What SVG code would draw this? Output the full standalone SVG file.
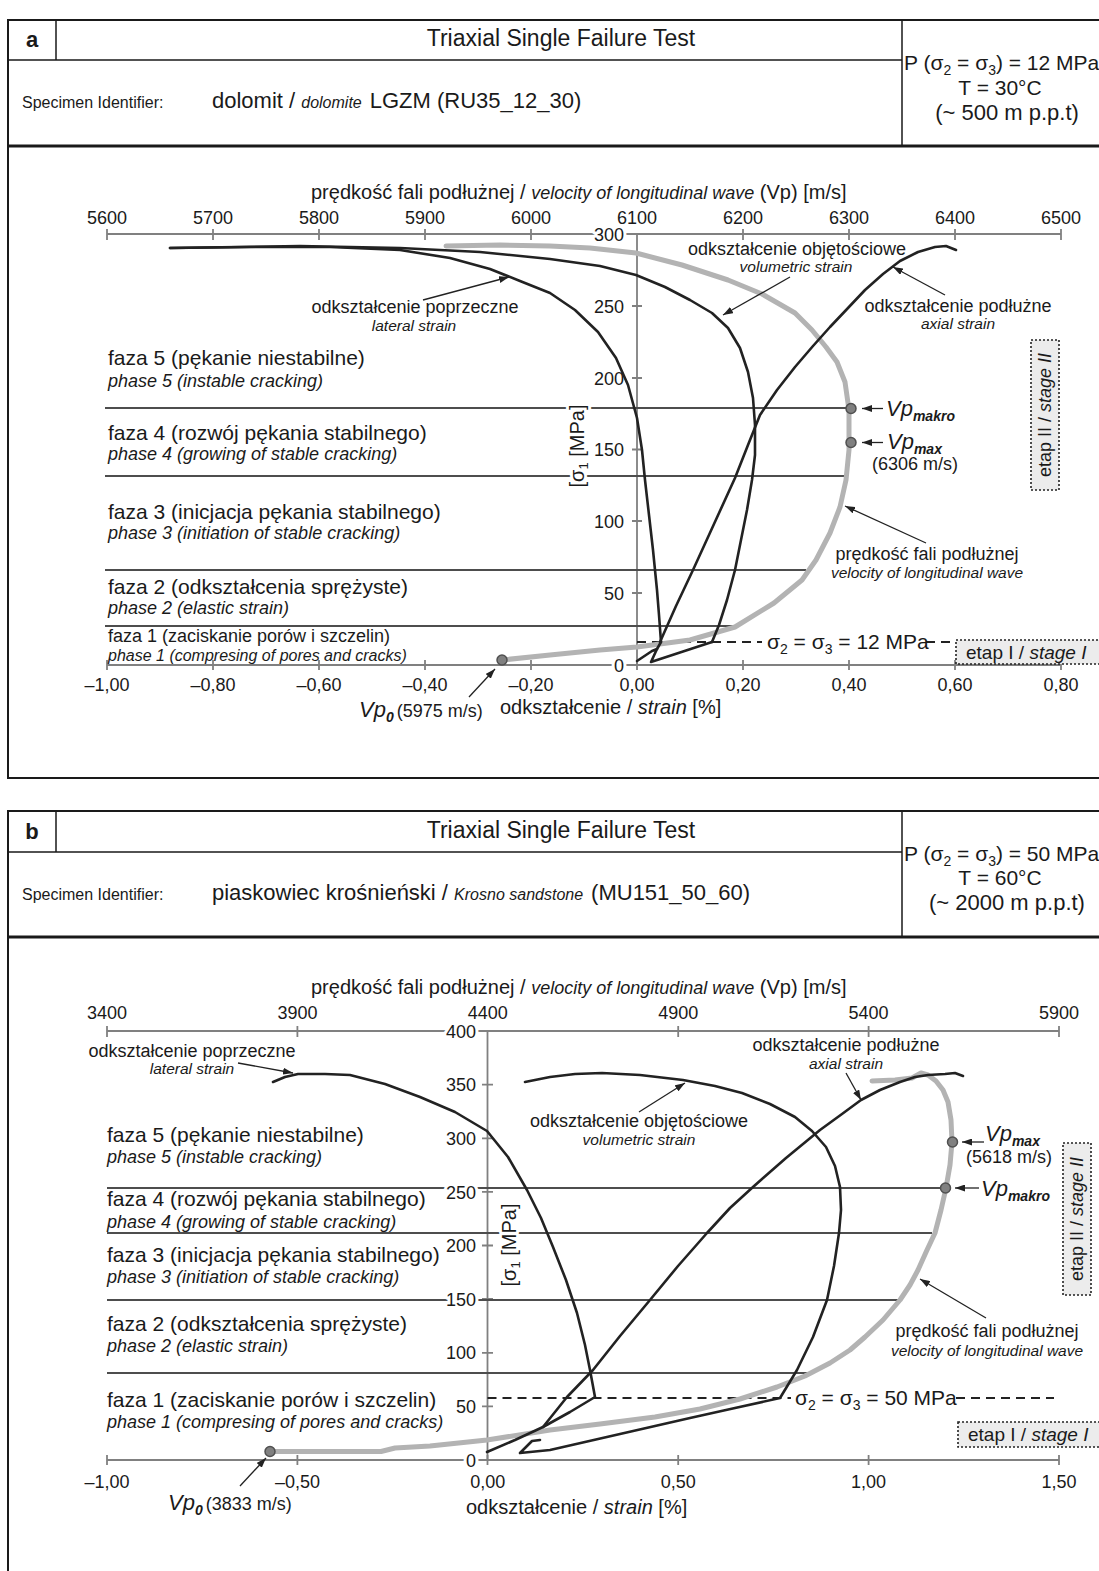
<svg xmlns="http://www.w3.org/2000/svg" width="1099" height="1571" viewBox="0 0 1099 1571">
<defs>
<style>
text{font-family:"Liberation Sans",Arial,sans-serif;fill:#1a1a1a}
.frame{fill:none;stroke:#1a1a1a;stroke-width:2}
.hdr{stroke:#1a1a1a;stroke-width:1.5;fill:none}
.thick{stroke:#1a1a1a;stroke-width:3}
.axis{stroke:#808080;stroke-width:1.8;fill:none}
.phase{stroke:#4d4d4d;stroke-width:1.8}
.curve{fill:none;stroke:#222;stroke-width:2.6;stroke-linejoin:round;stroke-linecap:round}
.vp{fill:none;stroke:#b3b3b3;stroke-width:5;stroke-linejoin:round;stroke-linecap:round}
.dash{stroke:#222;stroke-width:2;stroke-dasharray:9 6}
.ptr{stroke:#222;stroke-width:1.3;fill:none;marker-end:url(#arr)}
.dot{fill:#808080;stroke:#505050;stroke-width:1.5}
.stage{fill:#ececec;stroke:#222;stroke-width:1.6;stroke-dasharray:2 2}
.halo{paint-order:stroke;stroke:#fff;stroke-width:6;stroke-linejoin:round}
.tk{font-size:18px}
.it{font-style:italic}
.ph{font-size:21px}
.phi{font-size:18px;font-style:italic}
.lb{font-size:18px}
.lbi{font-size:15.5px;font-style:italic}
.vpl{font-size:22px;font-style:italic}
.vps{font-size:14px;font-style:italic;font-weight:bold}
</style>
<marker id="arr" viewBox="0 0 10 7" refX="10" refY="3.5" markerWidth="10" markerHeight="7" markerUnits="userSpaceOnUse" orient="auto">
<path d="M0,0 L10,3.5 L0,7 z" fill="#222"/>
</marker>
</defs>
<rect width="1099" height="1571" fill="#fff"/>

<!-- ================= PANEL A ================= -->
<g id="panel-a-header">
<rect class="frame" x="8" y="20" width="1100" height="758"/>
<path class="hdr" d="M56 20 V60 M8 60 H902 M902 20 V146"/>
<path class="thick" d="M8 146 H1108"/>
<text x="32" y="47" font-size="22" font-weight="bold" text-anchor="middle">a</text>
<text x="561" y="46" font-size="23" text-anchor="middle">Triaxial Single Failure Test</text>
<text x="22" y="108" font-size="16">Specimen Identifier:</text>
<text x="212" y="108" font-size="22">dolomit / <tspan class="it" font-size="16">dolomite</tspan><tspan dx="8">LGZM (RU35_12_30)</tspan></text>
<text x="904" y="70" font-size="21">P (σ<tspan font-size="14" dy="5">2</tspan><tspan dy="-5"> = σ</tspan><tspan font-size="14" dy="5">3</tspan><tspan dy="-5">) = 12 MPa</tspan></text>
<text x="1000" y="95" font-size="21" text-anchor="middle">T = 30°C</text>
<text x="1007" y="120" font-size="22" text-anchor="middle">(~ 500 m p.p.t)</text>
</g>

<g id="panel-a-axes">
<path class="axis" d="M107 234 H1061 M637 234 V665 M107 665 H1061"/>
<path class="axis" d="M107 229 V240 M213 229 V240 M319 229 V240 M425 229 V240 M531 229 V240 M743 229 V240 M849 229 V240 M955 229 V240 M1061 229 V240 M107 660 V670 M213 660 V670 M319 660 V670 M425 660 V670 M531 660 V670 M637 660 V670 M743 660 V670 M849 660 V670 M955 660 V670 M1061 660 V670 M632 234 H642 M632 306 H642 M632 378 H642 M632 449.5 H642 M632 521 H642 M632 593 H642"/>
<g class="tk" text-anchor="middle">
<text x="107" y="224">5600</text><text x="213" y="224">5700</text><text x="319" y="224">5800</text><text x="425" y="224">5900</text><text x="531" y="224">6000</text><text x="637" y="224">6100</text><text x="743" y="224">6200</text><text x="849" y="224">6300</text><text x="955" y="224">6400</text><text x="1061" y="224">6500</text>
<text x="107" y="691">–1,00</text><text x="213" y="691">–0,80</text><text x="319" y="691">–0,60</text><text x="425" y="691">–0,40</text><text x="531" y="691">–0,20</text><text x="637" y="691">0,00</text><text x="743" y="691">0,20</text><text x="849" y="691">0,40</text><text x="955" y="691">0,60</text><text x="1061" y="691">0,80</text>
</g>
<text x="311" y="199" font-size="20">prędkość fali podłużnej / <tspan class="it" font-size="18">velocity of longitudinal wave</tspan> (Vp) [m/s]</text>
<text x="500" y="714" font-size="20">odkształcenie / <tspan class="it">strain</tspan> [%]</text>
</g>

<g id="panel-a-phases">
<path class="phase" d="M105 408 H851 M105 476 H846 M105 570 H806 M105 626 H735"/>
<path class="dash" d="M637 642 H762 M926 642 H952"/>
<text x="767" y="649" font-size="21">σ<tspan font-size="14" dy="5">2</tspan><tspan dy="-5"> = σ</tspan><tspan font-size="14" dy="5">3</tspan><tspan dy="-5"> = 12 MPa</tspan></text>
<text class="ph" x="108" y="365">faza 5 (pękanie niestabilne)</text>
<text class="phi" x="108" y="387">phase 5 (instable cracking)</text>
<text class="ph" x="108" y="440">faza 4 (rozwój pękania stabilnego)</text>
<text class="phi" x="108" y="460">phase 4 (growing of stable cracking)</text>
<text class="ph" x="108" y="519">faza 3 (inicjacja pękania stabilnego)</text>
<text class="phi" x="108" y="539">phase 3 (initiation of stable cracking)</text>
<text class="ph" x="108" y="594">faza 2 (odkształcenia sprężyste)</text>
<text class="phi" x="108" y="614">phase 2 (elastic strain)</text>
<text x="108" y="642" font-size="18">faza 1 (zaciskanie porów i szczelin)</text>
<text x="108" y="661" font-size="16" font-style="italic">phase 1 (compresing of pores and cracks)</text>
</g>

<g id="panel-a-ylabels" class="tk halo" text-anchor="end">
<text x="624" y="240.5">300</text><text x="624" y="312.5">250</text><text x="624" y="384.5">200</text><text x="624" y="456">150</text><text x="624" y="527.5">100</text><text x="624" y="599.5">50</text><text x="624" y="671.5">0</text>
</g>
<text class="halo" transform="translate(584 446) rotate(-90)" font-size="20" text-anchor="middle">[σ<tspan font-size="13" dy="4">1</tspan><tspan dy="-4"> [MPa]</tspan></text>

<g id="panel-a-curves">
<polyline class="vp" points="502,660 550,655 600,650 637,647 690,640 735,627 774,603 802,580 816,560 830,533 840,507 846,480 849,450 849,410 845,382 837,362 826,347 812,330 795,313 762,294 728,280 682,265 636,253 590,248 550,246 500,245 446,246"/>
<polyline class="curve" points="170,248 250,247 330,247 400,250 450,258 490,269 520,281 550,293 575,310 598,332 616,358 628,385 637,418 642,450 645,480 649,515 653,550 657,590 659,615 661,642"/>
<polyline class="curve" points="170,248 300,246 400,248 480,252 550,259 600,266 636,275 665,287 690,300 712,313 728,328 740,348 748,372 753,398 755,425 755,455 752,480 747,510 741,540 735,570 727,600 719,625 712,642"/>
<polyline class="curve" points="660,642 676,606 693,570 714,524 735,478 748,445 760,415 777,390 795,367 813,346 830,327 848,308 865,290 883,274 900,261 918,252 935,247 946,246 956,250"/>
<polyline class="curve" points="637,661 652,651 657,649 651,662 712,642"/>
<polyline class="curve" points="657,649 661,642"/>
<circle class="dot" cx="502" cy="660" r="5"/>
<circle class="dot" cx="851" cy="408.5" r="5"/>
<circle class="dot" cx="851" cy="442.5" r="5"/>
</g>

<g id="panel-a-labels">
<text class="lb" x="415" y="313" text-anchor="middle">odkształcenie poprzeczne</text>
<text class="lbi" x="414" y="331" text-anchor="middle">lateral strain</text>
<path class="ptr" d="M423 300 L509 277"/>
<text class="lb" x="797" y="255" text-anchor="middle">odkształcenie objętościowe</text>
<text class="lbi" x="796" y="272" text-anchor="middle">volumetric strain</text>
<path class="ptr" d="M790 277 L723 315"/>
<text class="lb" x="958" y="312" text-anchor="middle">odkształcenie podłużne</text>
<text class="lbi" x="958" y="329" text-anchor="middle">axial strain</text>
<path class="ptr" d="M945 295 L893 267"/>
<path class="ptr" d="M883 408.5 L862 408.5"/>
<text class="vpl" x="886" y="416">Vp<tspan class="vps" dy="5">makro</tspan></text>
<path class="ptr" d="M883 442.5 L862 442.5"/>
<text class="vpl" x="887" y="449">Vp<tspan class="vps" dy="5">max</tspan></text>
<text class="lb" x="872" y="470">(6306 m/s)</text>
<text class="lb" x="927" y="560" text-anchor="middle">prędkość fali podłużnej</text>
<text class="lbi" x="927" y="578" text-anchor="middle" font-size="16">velocity of longitudinal wave</text>
<path class="ptr" d="M926 543 L845 506"/>
<path class="ptr" d="M469 697 L495 669"/>
<text class="vpl" x="359" y="717">Vp<tspan class="vps" dy="5">0</tspan><tspan font-size="18" font-style="normal" font-weight="normal" dy="-5" dx="3">(5975 m/s)</tspan></text>
</g>

<g id="panel-a-stages">
<rect class="stage" x="1031" y="340" width="28" height="150"/>
<text transform="translate(1051 415) rotate(-90)" font-size="18" text-anchor="middle">etap II / <tspan class="it">stage II</tspan></text>
<rect class="stage" x="956" y="640" width="150" height="24"/>
<text x="966" y="659" font-size="19">etap I / <tspan class="it">stage I</tspan></text>
</g>

<!-- ================= PANEL B ================= -->
<g id="panel-b-header">
<rect class="frame" x="8" y="811" width="1100" height="800"/>
<path class="hdr" d="M56 811 V852 M8 852 H902 M902 811 V937"/>
<path class="thick" d="M8 937 H1108"/>
<text x="32" y="839" font-size="22" font-weight="bold" text-anchor="middle">b</text>
<text x="561" y="838" font-size="23" text-anchor="middle">Triaxial Single Failure Test</text>
<text x="22" y="900" font-size="16">Specimen Identifier:</text>
<text x="212" y="900" font-size="22">piaskowiec krośnieński / <tspan class="it" font-size="16">Krosno sandstone</tspan><tspan dx="8">(MU151_50_60)</tspan></text>
<text x="904" y="861" font-size="21">P (σ<tspan font-size="14" dy="5">2</tspan><tspan dy="-5"> = σ</tspan><tspan font-size="14" dy="5">3</tspan><tspan dy="-5">) = 50 MPa</tspan></text>
<text x="1000" y="885" font-size="21" text-anchor="middle">T = 60°C</text>
<text x="1007" y="910" font-size="22" text-anchor="middle">(~ 2000 m p.p.t)</text>
</g>

<g id="panel-b-axes">
<path class="axis" d="M107 1031 H1059 M487.5 1031 V1460 M107 1460 H1059"/>
<path class="axis" d="M107 1026 V1037 M297.4 1026 V1037 M678.2 1026 V1037 M868.6 1026 V1037 M1059 1026 V1037 M107 1455 V1465 M297.4 1455 V1465 M487.5 1455 V1465 M678.2 1455 V1465 M868.6 1455 V1465 M1059 1455 V1465 M482 1031 H493 M482 1084.6 H493 M482 1138.3 H493 M482 1191.9 H493 M482 1245.5 H493 M482 1299 H493 M482 1352.8 H493 M482 1406.4 H493"/>
<g class="tk" text-anchor="middle">
<text x="107" y="1018.5">3400</text><text x="297.4" y="1018.5">3900</text><text x="487.8" y="1018.5">4400</text><text x="678.2" y="1018.5">4900</text><text x="868.6" y="1018.5">5400</text><text x="1059" y="1018.5">5900</text>
<text x="107" y="1487.5">–1,00</text><text x="297.4" y="1487.5">–0,50</text><text x="487.8" y="1487.5">0,00</text><text x="678.2" y="1487.5">0,50</text><text x="868.6" y="1487.5">1,00</text><text x="1059" y="1487.5">1,50</text>
</g>
<text x="311" y="994" font-size="20">prędkość fali podłużnej / <tspan class="it" font-size="18">velocity of longitudinal wave</tspan> (Vp) [m/s]</text>
<text x="466" y="1514" font-size="20">odkształcenie / <tspan class="it">strain</tspan> [%]</text>
</g>

<g id="panel-b-phases">
<path class="phase" d="M107 1188 H942 M107 1233 H932 M107 1300 H900 M107 1373 H809"/>
<path class="dash" d="M487.5 1398 H791 M956 1398 H1054"/>
<text x="795" y="1405" font-size="21">σ<tspan font-size="14" dy="5">2</tspan><tspan dy="-5"> = σ</tspan><tspan font-size="14" dy="5">3</tspan><tspan dy="-5"> = 50 MPa</tspan></text>
<text class="ph" x="107" y="1142">faza 5 (pękanie niestabilne)</text>
<text class="phi" x="107" y="1163">phase 5 (instable cracking)</text>
<text class="ph" x="107" y="1206">faza 4 (rozwój pękania stabilnego)</text>
<text class="phi" x="107" y="1228">phase 4 (growing of stable cracking)</text>
<text class="ph" x="107" y="1262">faza 3 (inicjacja pękania stabilnego)</text>
<text class="phi" x="107" y="1283">phase 3 (initiation of stable cracking)</text>
<text class="ph" x="107" y="1331">faza 2 (odkształcenia sprężyste)</text>
<text class="phi" x="107" y="1352">phase 2 (elastic strain)</text>
<text class="ph" x="107" y="1407">faza 1 (zaciskanie porów i szczelin)</text>
<text class="phi" x="107" y="1428">phase 1 (compresing of pores and cracks)</text>
</g>

<g id="panel-b-ylabels" class="tk halo" text-anchor="end">
<text x="476" y="1037.5">400</text><text x="476" y="1091">350</text><text x="476" y="1145">300</text><text x="476" y="1198.5">250</text><text x="476" y="1252">200</text><text x="476" y="1305.5">150</text><text x="476" y="1359">100</text><text x="476" y="1413">50</text><text x="476" y="1466.5">0</text>
</g>
<text class="halo" transform="translate(516 1245) rotate(-90)" font-size="20" text-anchor="middle">[σ<tspan font-size="13" dy="4">1</tspan><tspan dy="-4"> [MPa]</tspan></text>

<g id="panel-b-curves">
<polyline class="vp" points="270,1451.5 381,1451.5 395,1448 430,1446 487,1440 550,1430 600,1424 655,1417 700,1409 740,1399 777,1387 805,1376 830,1363 850,1350 865,1337 883,1320 900,1300 910,1285 918,1270 927,1250 935,1233 941,1210 946,1188 950,1165 952,1142 951,1120 948,1102 943,1090 936,1081 928,1075 921,1073 912,1078 895,1080 872,1081"/>
<polyline class="curve" points="273,1082 285,1077 298,1074 325,1074 350,1075 385,1084 420,1097 455,1112 487,1131 508,1157 527,1190 541,1218 553,1247 566,1280 577,1313 585,1345 590,1370 595,1397 570,1412 543,1427 515,1440 487,1452"/>
<polyline class="curve" points="543,1427 555,1412 567,1397 593,1370 620,1336 650,1300 678,1266 707,1233 730,1208 753,1187 786,1158 820,1130 842,1114 861,1100 880,1090 900,1082 915,1077 928,1075 945,1074 955,1073 963,1076"/>
<polyline class="curve" points="525,1082 550,1077 575,1074 602,1073 640,1075 683,1080 715,1086 742,1093 770,1104 795,1117 812,1131 826,1147 835,1166 840,1187 841,1210 839,1233 834,1266 827,1300 813,1337 797,1370 780,1398 735,1408 690,1418 655,1426 620,1434 585,1442 550,1450 520,1453 532,1441 540,1440"/>
<circle class="dot" cx="270" cy="1451.5" r="5"/>
<circle class="dot" cx="945.5" cy="1188" r="5"/>
<circle class="dot" cx="952.5" cy="1142" r="5"/>
</g>

<g id="panel-b-labels">
<text class="lb" x="192" y="1057" text-anchor="middle">odkształcenie poprzeczne</text>
<text class="lbi" x="192" y="1074" text-anchor="middle">lateral strain</text>
<path class="ptr" d="M238 1063 L293 1073"/>
<text class="lb" x="639" y="1127" text-anchor="middle">odkształcenie objętościowe</text>
<text class="lbi" x="639" y="1145" text-anchor="middle">volumetric strain</text>
<path class="ptr" d="M639 1112 L685 1083"/>
<text class="lb" x="846" y="1051" text-anchor="middle">odkształcenie podłużne</text>
<text class="lbi" x="846" y="1069" text-anchor="middle">axial strain</text>
<path class="ptr" d="M846 1073 L861 1100"/>
<path class="ptr" d="M984 1142 L962 1142"/>
<text class="vpl" x="985" y="1141">Vp<tspan class="vps" dy="5">max</tspan></text>
<text class="lb" x="966" y="1163">(5618 m/s)</text>
<path class="ptr" d="M979 1188 L955 1188"/>
<text class="vpl" x="981" y="1196">Vp<tspan class="vps" dy="5">makro</tspan></text>
<text class="lb" x="987" y="1337" text-anchor="middle">prędkość fali podłużnej</text>
<text class="lbi" x="987" y="1356" text-anchor="middle" font-size="16">velocity of longitudinal wave</text>
<path class="ptr" d="M986 1318 L920 1279"/>
<path class="ptr" d="M240 1486 L266 1458"/>
<text class="vpl" x="168" y="1510">Vp<tspan class="vps" dy="5">0</tspan><tspan font-size="18" font-style="normal" font-weight="normal" dy="-5" dx="3">(3833 m/s)</tspan></text>
</g>

<g id="panel-b-stages">
<rect class="stage" x="1063" y="1143" width="28" height="152"/>
<text transform="translate(1083 1219) rotate(-90)" font-size="18" text-anchor="middle">etap II / <tspan class="it">stage II</tspan></text>
<rect class="stage" x="958" y="1422" width="150" height="25"/>
<text x="968" y="1441" font-size="19">etap I / <tspan class="it">stage I</tspan></text>
</g>
</svg>
